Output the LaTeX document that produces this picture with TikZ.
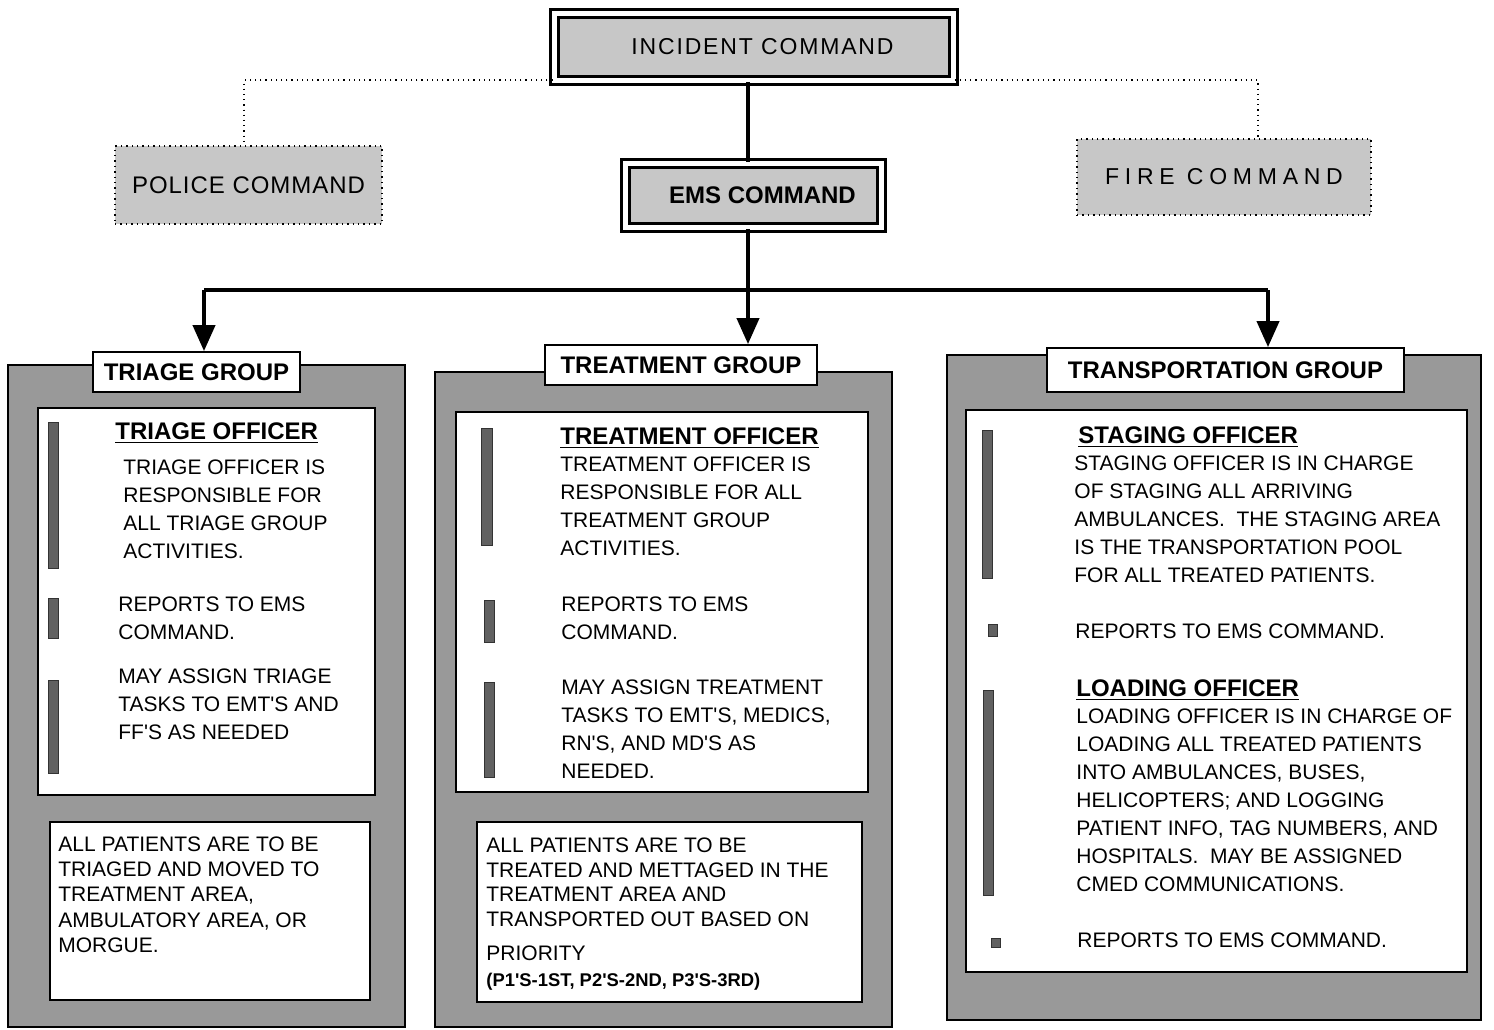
\documentclass[tikz,border=0pt]{standalone}
\usepackage{fontspec}
\setmainfont{Liberation Sans}[Ligatures=TeXOff]
\usetikzlibrary{arrows,arrows.meta,calc}
\usetikzlibrary{positioning,shapes}
\tikzset{
    %Define style for boxes
    cmdbox/.style={
        rectangle,
        draw=black, line width=1.5pt,
        double=white, double distance=2.5pt,
        fill=black!22,
        align=center,
        inner sep=0pt,
    },
    sidebox/.style={
        rectangle,
        draw=black, dotted, line width=0.7pt,
        fill=black!22,
        inner sep=0pt,
    },
    panelbox/.style={
        rectangle,
        draw=black, line width=0.7pt,
        fill=black!40,
        inner sep=0pt,
    },
    sheetbox/.style={
        rectangle,
        draw=black, line width=0.9pt,
        fill=white,
        inner sep=0pt,
    },
    tagbox/.style={
        rectangle,
        draw=black, line width=0.9pt,
        fill=white,
        inner sep=0pt,
        font=\fontsize{12}{14}\selectfont\bfseries,
    },
    headtxt/.style={
        anchor=north west,
        inner sep=0pt,
        font=\fontsize{12}{14}\selectfont\bfseries,
    },
    bodytxt/.style={
        anchor=north west,
        inner sep=0pt,
        align=left,
        font=\fontsize{10.5}{14}\selectfont,
    },
    notetxt/.style={
        anchor=north west,
        inner sep=0pt,
        align=left,
        font=\fontsize{10.5}{12.6}\selectfont,
    },
    bulletbar/.style={
        fill=black!62,
        draw=black!80, line width=0.3pt,
    },
    mainlink/.style={
        line width=2pt,
    },
    feedarrow/.style={
        line width=2pt,
        -{Triangle[width=11pt,length=13pt]},
    },
    dotlink/.style={
        dotted, line width=0.6pt,
    },
}

\begin{document}
\begin{tikzpicture}[x=0.5pt,y=-0.5pt]
    \useasboundingbox (0,0) rectangle (1494,1029);

    % command level
    \node[cmdbox, minimum width=199.5pt, minimum height=33.5pt,
        font=\fontsize{11.5}{13}\selectfont\addfontfeature{LetterSpace=8}] (inc) at (753.5,47) {\hspace*{9pt}INCIDENT COMMAND};
    \node[cmdbox, minimum width=128pt, minimum height=32pt,
        font=\fontsize{12}{14}\selectfont\bfseries] (ems) at (753.5,195.5) {\hspace*{9pt}EMS COMMAND};
    \node[sidebox, minimum width=133.5pt, minimum height=39pt,
        font=\fontsize{12}{14}\selectfont\addfontfeature{LetterSpace=4}] (pol) at (248.5,185) {POLICE COMMAND};
    \node[sidebox, minimum width=147pt, minimum height=38pt,
        font=\fontsize{11.5}{14}\selectfont\addfontfeature{LetterSpace=25}] (fire) at (1224,177) {FIRE COMMAND};

    \coordinate (pk) at (244,80);
    \coordinate (fk) at (1258,80);
    \draw[dotlink] (inc.west |- pk) -- (pk) -- (pk |- pol.north);
    \draw[dotlink] (inc.east |- fk) -- (fk) -- (fk |- fire.north);

    \coordinate (hub) at (748,290);
    \coordinate (tria) at (204,290);
    \coordinate (trna) at (1268,290);
    \draw[mainlink] (inc.south -| hub) -- (ems.north -| hub);
    \draw[mainlink] (ems.south -| hub) -- (hub);
    \draw[mainlink] (tria) -- (trna);

    % triage group
    \node[panelbox, minimum width=198.5pt, minimum height=331pt] (trip) at (206.5,696) {};
    \node[tagbox, minimum width=103.5pt, minimum height=20pt] (tril) at (196.5,372) {TRIAGE GROUP};
    \node[sheetbox, minimum width=168.5pt, minimum height=193.5pt] (tris) at (206.5,601.5) {};
    \node[sheetbox, minimum width=160pt, minimum height=89pt] (trin) at (210,911) {};
    \draw[feedarrow] (tria) -- (tria |- tril.north);

    \path[bulletbar] (48,422) rectangle (58,568);
    \path[bulletbar] (48,598) rectangle (58,638);
    \path[bulletbar] (48,680) rectangle (58,773);
    \node[headtxt] (trih) at (115,422.5) {\underline{TRIAGE OFFICER}};
    \node[bodytxt] (tri1) at (123,459.5) {TRIAGE OFFICER IS\\RESPONSIBLE FOR\\ALL TRIAGE GROUP\\ACTIVITIES.};
    \node[bodytxt] (tri2) at (118,596.5) {REPORTS TO EMS\\COMMAND.};
    \node[bodytxt] (tri3) at (118,668.5) {MAY ASSIGN TRIAGE\\TASKS TO EMT'S AND\\FF'S AS NEEDED};
    \node[notetxt] (trim) at (58,836.5) {ALL PATIENTS ARE TO BE\\TRIAGED AND MOVED TO\\TREATMENT AREA,\\AMBULATORY AREA, OR\\MORGUE.};

    % treatment group
    \node[panelbox, minimum width=228.5pt, minimum height=327.5pt] (trep) at (663.5,699.5) {};
    \node[tagbox, minimum width=136pt, minimum height=20pt] (trel) at (681,365) {TREATMENT GROUP};
    \node[sheetbox, minimum width=206pt, minimum height=190pt] (tres) at (662,602) {};
    \node[sheetbox, minimum width=192.5pt, minimum height=90pt] (tren) at (669.5,912) {};
    \draw[feedarrow] (hub) -- (hub |- trel.north);

    \path[bulletbar] (481,428) rectangle (492,545);
    \path[bulletbar] (484,600) rectangle (494,642);
    \path[bulletbar] (484,682) rectangle (494,777);
    \node[headtxt] (treh) at (560,427.5) {\underline{TREATMENT OFFICER}};
    \node[bodytxt] (tre1) at (560,456.5) {TREATMENT OFFICER IS\\RESPONSIBLE FOR ALL\\TREATMENT GROUP\\ACTIVITIES.};
    \node[bodytxt] (tre2) at (561,596.5) {REPORTS TO EMS\\COMMAND.};
    \node[bodytxt] (tre3) at (561,679.5) {MAY ASSIGN TREATMENT\\TASKS TO EMT'S, MEDICS,\\RN'S, AND MD'S AS\\NEEDED.};
    \node[notetxt, font=\fontsize{10.5}{12.35}\selectfont] (trem) at (486,837.5) {ALL PATIENTS ARE TO BE\\TREATED AND METTAGED IN THE\\TREATMENT AREA AND\\TRANSPORTED OUT BASED ON};
    \node[notetxt] (trepr) at (486,945.5) {PRIORITY};
    \node[notetxt, font=\fontsize{9.2}{11}\selectfont\bfseries] (trepq) at (486,972.5) {(P1'S-1ST, P2'S-2ND, P3'S-3RD)};

    % transportation group
    \node[panelbox, minimum width=267pt, minimum height=332.5pt] (trnp) at (1214,687.5) {};
    \node[tagbox, minimum width=178.5pt, minimum height=22pt] (trnl) at (1225.5,370) {TRANSPORTATION GROUP};
    \node[sheetbox, minimum width=250.5pt, minimum height=281pt] (trns) at (1216.5,691) {};
    \draw[feedarrow] (trna) -- (trna |- trnl.north);

    \path[bulletbar] (982,430) rectangle (992,578);
    \path[bulletbar] (988,624) rectangle (997,636);
    \path[bulletbar] (983,690) rectangle (993,895);
    \path[bulletbar] (991,938) rectangle (1000,947);
    \node[headtxt] (stah) at (1078,426.5) {\underline{STAGING OFFICER}};
    \node[bodytxt] (sta1) at (1074,455.5) {STAGING OFFICER IS IN CHARGE\\OF STAGING ALL ARRIVING\\AMBULANCES.\ \ THE STAGING AREA\\IS THE TRANSPORTATION POOL\\FOR ALL TREATED PATIENTS.};
    \node[bodytxt] (sta2) at (1075,623.5) {REPORTS TO EMS COMMAND.};
    \node[headtxt] (loah) at (1076,679.5) {\underline{LOADING OFFICER}};
    \node[bodytxt] (loa1) at (1076,708.5) {LOADING OFFICER IS IN CHARGE OF\\LOADING ALL TREATED PATIENTS\\INTO AMBULANCES, BUSES,\\HELICOPTERS; AND LOGGING\\PATIENT INFO, TAG NUMBERS, AND\\HOSPITALS.\ \ MAY BE ASSIGNED\\CMED COMMUNICATIONS.};
    \node[bodytxt] (loa2) at (1077,932.5) {REPORTS TO EMS COMMAND.};
\end{tikzpicture}
\end{document}
